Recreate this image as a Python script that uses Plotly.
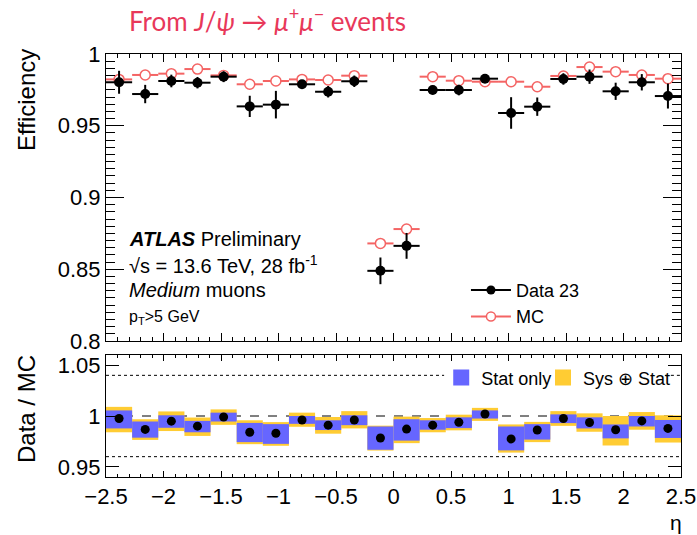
import numpy as np
import plotly.graph_objects as go

# ---------------- data ----------------
eta_edges = np.linspace(-2.5, 2.5, 23)
eta_centers = 0.5 * (eta_edges[:-1] + eta_edges[1:])
half_width = 0.5 * (eta_edges[1] - eta_edges[0])

data_eff = [0.9803, 0.9721, 0.9812, 0.9800, 0.9842, 0.9635, 0.9647, 0.9789, 0.9737, 0.9810, 0.8489,
            0.8663, 0.9749, 0.9749, 0.9828, 0.9589, 0.9633, 0.9826, 0.9842, 0.9740, 0.9803, 0.9707]
data_err = [0.0080, 0.0064, 0.0044, 0.0040, 0.0038, 0.0074, 0.0096, 0.0025, 0.0040, 0.0040, 0.0093,
            0.0090, 0.0030, 0.0037, 0.0030, 0.0110, 0.0064, 0.0040, 0.0050, 0.0060, 0.0057, 0.0087]
mc_eff = [0.9823, 0.9854, 0.9863, 0.9895, 0.9851, 0.9789, 0.9812, 0.9823, 0.9819, 0.9849, 0.8680,
          0.8780, 0.9842, 0.9814, 0.9807, 0.9807, 0.9772, 0.9847, 0.9909, 0.9877, 0.9854, 0.9828]

ratio = [0.9975, 0.9868, 0.9949, 0.9900, 0.9990, 0.9840, 0.9830, 0.9961, 0.9910, 0.9961, 0.9784,
         0.9871, 0.9910, 0.9939, 1.0020, 0.9775, 0.9862, 0.9975, 0.9936, 0.9865, 0.9952, 0.9878]
stat_hi = [1.0055, 0.9946, 1.0007, 0.9952, 1.0033, 0.9932, 0.9920, 1.0000, 0.9958, 1.0007, 0.9897,
           0.9968, 0.9958, 0.9987, 1.0055, 0.9897, 0.9920, 1.0016, 0.9987, 0.9917, 1.0000, 0.9961]
stat_lo = [0.9878, 0.9787, 0.9884, 0.9840, 0.9946, 0.9743, 0.9726, 0.9923, 0.9862, 0.9910, 0.9668,
           0.9758, 0.9865, 0.9881, 0.9975, 0.9662, 0.9768, 0.9930, 0.9878, 0.9780, 0.9897, 0.9784]
syst_hi = [1.0090, 0.9968, 1.0045, 0.9985, 1.0065, 0.9958, 0.9940, 1.0033, 0.9990, 1.0048, 0.9905,
           0.9994, 0.9980, 1.0013, 1.0080, 0.9917, 0.9942, 1.0048, 1.0026, 1.0000, 1.0039, 1.0007]
syst_lo = [0.9840, 0.9765, 0.9852, 0.9804, 0.9913, 0.9723, 0.9707, 0.9894, 0.9826, 0.9878, 0.9660,
           0.9733, 0.9840, 0.9859, 0.9952, 0.9640, 0.9743, 0.9903, 0.9845, 0.9710, 0.9865, 0.9739]

# ---------------- style ----------------
FONT = "Liberation Sans, Arial, sans-serif"
RED = "#f46464"
BLUE = "#6666ff"
YELLOW = "#ffcc33"
TITLE_RED = "#e8385a"

fig = go.Figure()
hw = [half_width] * len(eta_centers)

# MC
fig.add_trace(go.Scatter(
    x=eta_centers, y=mc_eff, mode="markers", showlegend=False,
    marker=dict(symbol="circle", size=10, color="white", line=dict(color=RED, width=1.5)),
    error_x=dict(type="data", array=hw, color=RED, thickness=2, width=0),
    xaxis="x", yaxis="y"))
# Data
fig.add_trace(go.Scatter(
    x=eta_centers, y=data_eff, mode="markers", showlegend=False,
    marker=dict(symbol="circle", size=10, color="black"),
    error_x=dict(type="data", array=hw, color="black", thickness=2, width=0),
    error_y=dict(type="data", array=data_err, color="black", thickness=2, width=0),
    xaxis="x", yaxis="y"))

# legend entries (top)
fig.add_trace(go.Scatter(x=[None], y=[None], mode="lines+markers", name="Data 23",
                         marker=dict(size=9, color="black"), line=dict(color="black", width=2),
                         legend="legend", xaxis="x", yaxis="y"))
fig.add_trace(go.Scatter(x=[None], y=[None], mode="lines+markers", name="MC",
                         marker=dict(size=9, color="white", line=dict(color=RED, width=1.5)),
                         line=dict(color=RED, width=2),
                         legend="legend", xaxis="x", yaxis="y"))

# ratio bands
fig.add_trace(go.Bar(
    x=eta_centers, y=np.array(syst_hi) - np.array(syst_lo), base=syst_lo,
    width=2 * half_width, marker=dict(color=YELLOW, line=dict(width=0)),
    showlegend=False, xaxis="x2", yaxis="y2"))
fig.add_trace(go.Bar(
    x=eta_centers, y=np.array(stat_hi) - np.array(stat_lo), base=stat_lo,
    width=2 * half_width, marker=dict(color=BLUE, line=dict(width=0)),
    showlegend=False, xaxis="x2", yaxis="y2"))
fig.add_trace(go.Scatter(
    x=eta_centers, y=ratio, mode="markers", showlegend=False,
    marker=dict(symbol="circle", size=9, color="black"),
    xaxis="x2", yaxis="y2"))

# legend entries (ratio)
fig.add_trace(go.Scatter(x=[None], y=[None], mode="markers", name="Stat only",
                         marker=dict(symbol="square", size=18, color=BLUE),
                         legend="legend2", xaxis="x2", yaxis="y2"))
fig.add_trace(go.Scatter(x=[None], y=[None], mode="markers", name="Sys \u2295 Stat",
                         marker=dict(symbol="square", size=18, color=YELLOW),
                         legend="legend3", xaxis="x2", yaxis="y2"))

axis_common = dict(showline=True, linecolor="black", linewidth=1, mirror="allticks",
                   ticks="inside", tickcolor="black", showgrid=False, zeroline=False,
                   automargin=False,
                   tickfont=dict(family=FONT, size=22, color="black"))

leg_font = dict(family=FONT, size=18, color="black")

fig.update_layout(
    width=697, height=535,
    margin=dict(l=106, r=16, t=54, b=58),
    paper_bgcolor="white", plot_bgcolor="white",
    font=dict(family=FONT, color="black"),
    barmode="overlay",
    xaxis=dict(domain=[0, 1], anchor="y", range=[-2.5, 2.5], dtick=0.5, tick0=-2.5,
               ticklen=8, showticklabels=False,
               minor=dict(ticks="inside", ticklen=4, dtick=0.1, tick0=-2.5, tickcolor="black"),
               **axis_common),
    yaxis=dict(domain=[0.3215, 1], anchor="x", range=[0.8, 1.0], dtick=0.05, tick0=0.8,
               ticklen=18,
               minor=dict(ticks="inside", ticklen=9, dtick=0.005, tick0=0.8, tickcolor="black"),
               **axis_common),
    xaxis2=dict(domain=[0, 1], anchor="y2", range=[-2.5, 2.5], dtick=0.5, tick0=-2.5,
                ticklen=6, matches="x",
                minor=dict(ticks="inside", ticklen=3, dtick=0.1, tick0=-2.5, tickcolor="black"),
                **axis_common),
    yaxis2=dict(domain=[0, 0.2884], anchor="x2", range=[0.94, 1.06],
                tickvals=[0.95, 1.0, 1.05], ticktext=["0.95", "1", "1.05"], ticklen=13,
                **axis_common),
    legend=dict(x=0.626, y=0.485, xanchor="left", yanchor="top", font=leg_font,
                bgcolor="rgba(0,0,0,0)", itemwidth=40, tracegroupgap=0),
    legend2=dict(x=0.583, y=0.278, xanchor="left", yanchor="top", font=leg_font,
                 bgcolor="rgba(0,0,0,0)", itemwidth=30),
    legend3=dict(x=0.76, y=0.278, xanchor="left", yanchor="top", font=leg_font,
                 bgcolor="rgba(0,0,0,0)", itemwidth=30),
    shapes=[
        dict(type="line", xref="x2", yref="y2", x0=-2.5, x1=2.5, y0=1.0, y1=1.0,
             line=dict(color="black", width=1, dash="dash"), layer="below"),
        # dotted guide at 1.04 is interrupted by the legend, as in the reference
        dict(type="line", xref="x2", yref="y2", x0=-2.5, x1=0.44, y0=1.04, y1=1.04,
             line=dict(color="black", width=1, dash="dot"), layer="below"),
        dict(type="line", xref="x2", yref="y2", x0=2.36, x1=2.5, y0=1.04, y1=1.04,
             line=dict(color="black", width=1, dash="dot"), layer="below"),
        dict(type="line", xref="x2", yref="y2", x0=-2.5, x1=2.5, y0=0.96, y1=0.96,
             line=dict(color="black", width=1, dash="dot"), layer="below"),
    ],
)

ann = []
ann.append(dict(text="From <i>J</i>/<i>\u03c8</i> \u2192 <i>\u03bc</i><sup>+</sup><i>\u03bc</i><sup>\u2212</sup> events",
                xref="paper", yref="paper", x=0.036, y=1.082, xanchor="left", yanchor="middle",
                showarrow=False, font=dict(family="Lato, sans-serif", size=26, color=TITLE_RED)))
ann.append(dict(text="Efficiency", textangle=-90, xref="paper", yref="paper",
                x=(26 - 106) / 575, y=(477 - 100) / 423, xanchor="center", yanchor="middle",
                showarrow=False, font=dict(family=FONT, size=24, color="black")))
ann.append(dict(text="Data / MC", textangle=-90, xref="paper", yref="paper",
                x=(26 - 106) / 575, y=(477 - 409) / 423, xanchor="center", yanchor="middle",
                showarrow=False, font=dict(family=FONT, size=24, color="black")))
ann.append(dict(text="\u03b7", xref="paper", yref="paper",
                x=(676 - 106) / 575, y=(477 - 522) / 423, xanchor="center", yanchor="middle",
                showarrow=False, font=dict(family=FONT, size=21, color="black")))
lab_x = (127 - 106) / 575
ann.append(dict(text="<b><i>ATLAS</i></b> Preliminary", xref="paper", yref="paper",
                x=lab_x, y=(477 - 239) / 423, xanchor="left", yanchor="middle",
                showarrow=False, font=dict(family=FONT, size=20, color="black")))
ann.append(dict(text="\u221as = 13.6 TeV, 28 fb<sup>-1</sup>", xref="paper", yref="paper",
                x=lab_x, y=(477 - 264) / 423, xanchor="left", yanchor="middle",
                showarrow=False, font=dict(family=FONT, size=20, color="black")))
ann.append(dict(text="<i>Medium</i> muons", xref="paper", yref="paper",
                x=lab_x, y=(477 - 290) / 423, xanchor="left", yanchor="middle",
                showarrow=False, font=dict(family=FONT, size=20, color="black")))
ann.append(dict(text="p<sub>T</sub>>5 GeV", xref="paper", yref="paper",
                x=lab_x, y=(477 - 317) / 423, xanchor="left", yanchor="middle",
                showarrow=False, font=dict(family=FONT, size=16, color="black")))
fig.update_layout(annotations=ann)

fig.write_html("out.html")
